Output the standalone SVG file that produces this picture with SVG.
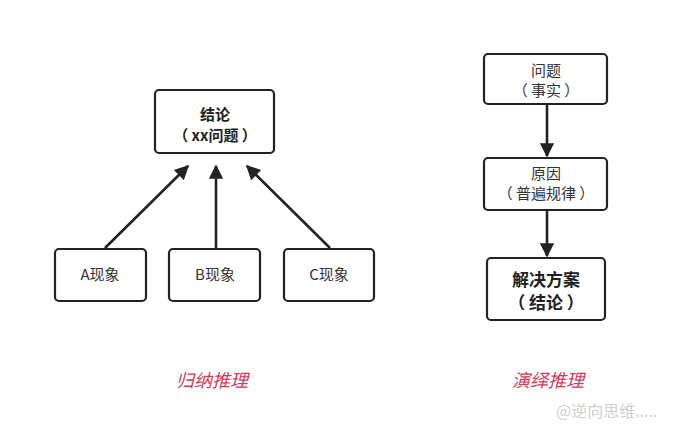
<svg xmlns="http://www.w3.org/2000/svg" width="679" height="438" viewBox="0 0 679 438">
<defs>
<marker id="ah" viewBox="0 0 10 10" refX="9" refY="5" markerWidth="6" markerHeight="5.5" orient="auto" markerUnits="strokeWidth">
<path d="M0,0 L10,5 L0,10 z" fill="#222"/>
</marker>
</defs>
<style>
.box{fill:#fff;stroke:#222;stroke-width:2.2}
.t{font-family:"Noto Sans CJK SC","Liberation Sans",sans-serif;font-size:15px;fill:#333;text-anchor:middle}
.b{font-weight:bold;fill:#222}
.l{font-size:17px}
.c{stroke:#222;stroke-width:2.6;fill:none;marker-end:url(#ah)}
.lab{font-family:"Noto Sans CJK SC",sans-serif;font-size:18px;font-style:italic;fill:#d43c57;text-anchor:middle}
</style>
<rect width="679" height="438" fill="#fff"/>
<g id="top">
<rect class="box" x="155" y="90" width="119" height="63" rx="4"/>
<text class="t b" x="215" y="120">结论</text>
<text class="t b" x="215" y="141">（ xx问题 ）</text>
</g>
<g id="a">
<rect class="box" x="55" y="249" width="91" height="52" rx="4"/>
<text class="t" x="100" y="280">A现象</text>
</g>
<g id="b">
<rect class="box" x="169" y="249" width="91" height="52" rx="4"/>
<text class="t" x="215" y="280">B现象</text>
</g>
<g id="c">
<rect class="box" x="284" y="249" width="90" height="52" rx="4"/>
<text class="t" x="329" y="280">C现象</text>
</g>
<g id="q">
<rect class="box" x="484" y="54" width="123" height="50" rx="4"/>
<text class="t" x="546" y="76">问题</text>
<text class="t" x="546" y="96">（ 事实 ）</text>
</g>
<g id="r">
<rect class="box" x="484" y="158" width="123" height="52" rx="4"/>
<text class="t" x="546" y="179">原因</text>
<text class="t" x="546" y="199">（ 普遍规律 ）</text>
</g>
<g id="s">
<rect class="box" x="487" y="258" width="118" height="62" rx="4"/>
<text class="t b l" x="546" y="286">解决方案</text>
<text class="t b l" x="546" y="309">（ 结论 ）</text>
</g>
<g id="connectors">
<line class="c" x1="105" y1="248" x2="188" y2="166"/>
<line class="c" x1="216" y1="248" x2="216" y2="166"/>
<line class="c" x1="330" y1="248" x2="247" y2="166"/>
<line class="c" x1="547" y1="105" x2="547" y2="156"/>
<line class="c" x1="547" y1="211" x2="547" y2="256"/>
</g>
<text class="lab" x="212" y="387">归纳推理</text>
<text class="lab" x="548" y="387">演绎推理</text>
<text x="556" y="417" font-family="Noto Sans CJK SC,sans-serif" font-size="16" fill="#cfcfcf">@逆向思维.....</text>
</svg>
